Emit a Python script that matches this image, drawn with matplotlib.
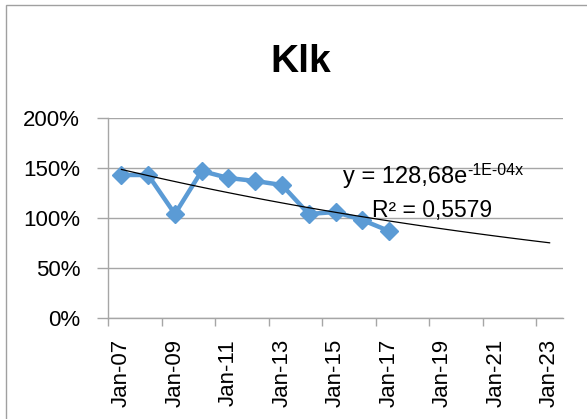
import numpy as np
import matplotlib
matplotlib.use("Agg")
import matplotlib.pyplot as plt
from matplotlib.patches import Rectangle
from matplotlib.ticker import FixedLocator, PercentFormatter

plt.rcParams['font.family'] = ['Liberation Sans', 'DejaVu Sans']

# data
years = [2007, 2008, 2009, 2010, 2011, 2012, 2013, 2014, 2015, 2016, 2017]
klk = [1.43, 1.43, 1.04, 1.47, 1.40, 1.37, 1.33, 1.04, 1.06, 0.98, 0.87]
label_years = [2007, 2009, 2011, 2013, 2015, 2017, 2019, 2021, 2023]
y_ticks = [0, 0.5, 1.0, 1.5, 2.0]
forecast_end = 2023

W, H = 587, 419
fig = plt.figure(figsize=(W / 100, H / 100), dpi=100)


def px(x0, y0, x1, y1):
    # pixel box (from top-left) -> figure fraction rect
    return [x0 / W, 1 - y1 / H, (x1 - x0) / W, (y1 - y0) / H]


# chart area border, runs off the right and bottom edge
fig.patches.append(Rectangle((6 / W, -0.2), 1.2, 1.2 - 5 / H,
                             transform=fig.transFigure, fill=False,
                             edgecolor='#a0a0a0', linewidth=1.0))

ax = fig.add_axes(px(108, 118, 563, 318))
grid_col = '#a6a6a6'

ax.plot(years, klk, color='#5b9bd5', linewidth=3.2, marker='D',
        markersize=9, zorder=3)

# exponential trendline, fitted like Excel does (log-linear least squares)
b, ln_a = np.polyfit(np.array(years, float), np.log(klk), 1)
xt = np.linspace(years[0], forecast_end, 100)
ax.plot(xt, np.exp(ln_a + b * xt), color='black', linewidth=0.9, zorder=4)

ax.set_xlim(2006.5, 2023.5)
ax.set_ylim(0, 2.0)

# ticks sit between the yearly categories, labels on the categories
ax.xaxis.set_major_locator(FixedLocator(np.arange(2006.5, 2023, 2)))
ax.xaxis.set_major_formatter(plt.NullFormatter())
ax.set_xticks(label_years, ['Jan-%02d' % (y % 100) for y in label_years],
              minor=True, rotation=90, fontsize=16)
ax.tick_params(axis='x', which='major', length=6, width=1, color=grid_col,
               direction='out')
ax.tick_params(axis='x', which='minor', length=0, pad=15)

ax.set_yticks(y_ticks)
ax.yaxis.set_major_formatter(PercentFormatter(1.0, decimals=0))
ax.tick_params(axis='y', length=8, width=1, color=grid_col, pad=12,
               labelsize=16)

ax.grid(axis='y', color=grid_col, linewidth=1.0)
ax.set_axisbelow(True)
for side in ['top', 'right']:
    ax.spines[side].set_visible(False)
for side in ['left', 'bottom']:
    ax.spines[side].set_color(grid_col)
    ax.spines[side].set_linewidth(1.0)

fig.text(301 / W, 1 - 72 / H, 'Klk', ha='center', va='baseline',
         fontsize=28, fontweight='bold')

# trendline equation, exponent placed right after the main text
eq = fig.text(343 / W, 1 - 183 / H, 'y = 128,68e', ha='left',
              va='baseline', fontsize=17)
fig.canvas.draw()
x_end = eq.get_window_extent(fig.canvas.get_renderer()).x1
fig.text(x_end / W, 1 - 175 / H, '-1E-04x', ha='left', va='baseline',
         fontsize=11.5)
fig.text(372 / W, 1 - 217 / H, 'R\u00b2 = 0,5579', ha='left',
         va='baseline', fontsize=16.5)

fig.savefig('out.png', dpi=100)
